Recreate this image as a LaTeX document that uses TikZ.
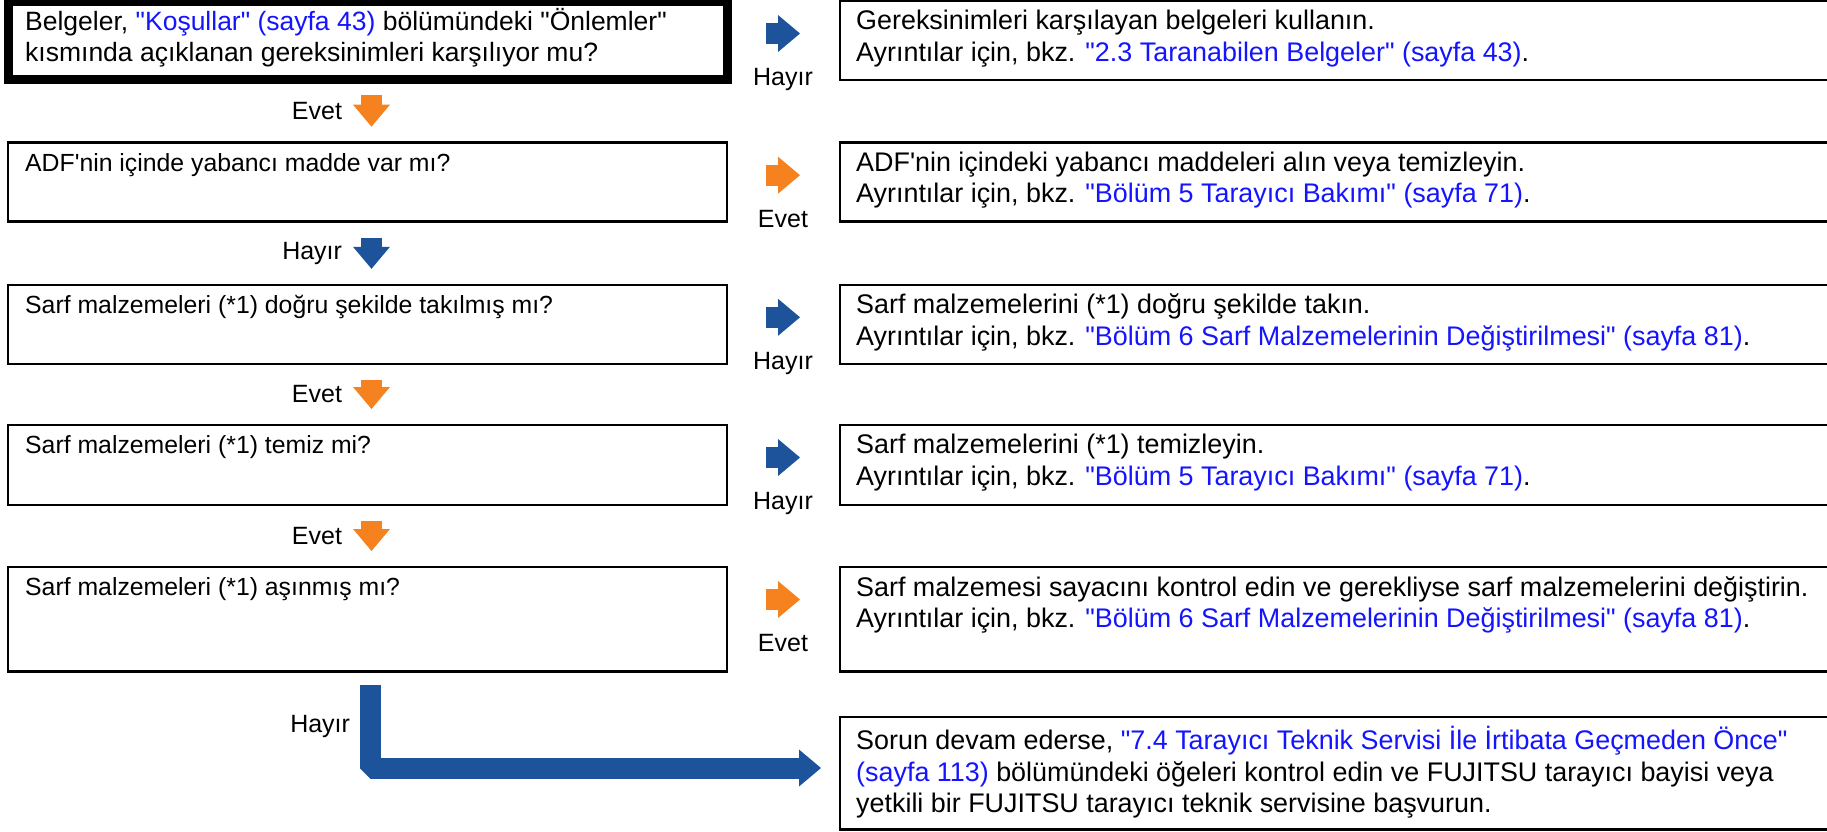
\documentclass[tikz,border=0pt]{standalone}
\usepackage{fontspec}
\newfontfamily\fjfont{Liberation Sans}
\usepackage{xcolor}
\definecolor{fjBlue}  {RGB}{ 29,  83, 155}
\definecolor{fjOrange}{RGB}{246, 130,  31}
\definecolor{fjLink}  {RGB}{ 20,  20, 255}
\usepackage{tikz}
\usetikzlibrary{
  arrows.meta,
  calc,
}
% question column is set a little smaller than the action column
\newcommand\qfont{\fjfont\fontsize{24.8}{31.5}\selectfont}
\newcommand\afont{\fjfont\fontsize{26.9}{31.5}\selectfont}
\newcommand\lblfont{\fjfont\fontsize{25}{31.5}\selectfont}
\newcommand\lnk[1]{\textcolor{fjLink}{#1}}

\begin{document}
\begin{tikzpicture}[
  x=1pt, y=-1pt,
  qbox/.style  ={draw, line width=2.5pt, anchor=north west, inner sep=0pt,
                 outer sep=0pt, minimum width=719pt},
  abox/.style  ={draw, line width=2.5pt, anchor=north west, inner sep=0pt,
                 outer sep=0pt, minimum width=1000pt},
  qtxt/.style  ={anchor=north west, inner sep=0pt, align=left, font=\qfont,
                 execute at begin node=\strut},
  atxt/.style  ={qtxt, font=\afont},
  lbl/.style   ={inner sep=0pt, outer sep=0pt, font=\lblfont, text=black},
  flow/.style  ={line width=21pt, line join=bevel,
                 -{Triangle[width=37pt, length=22pt, line width=0pt 0 0]}},
  yesarr/.style={flow, color=fjOrange},
  noarr/.style ={flow, color=fjBlue},
]
  \useasboundingbox (0,0) rectangle (1827,831);
  \clip (0,0) rectangle (1827,831);

  % Questions on the left, the first one framed heavier
  \node[qbox, line width=9pt, minimum height=78pt] (q1) at (8,1) {};
  \node[qbox, minimum height=79pt]    (q2) at (8,142.7) {};
  \node[qbox, minimum height=79pt]    (q3) at (8,284.8) {};
  \node[qbox, minimum height=80pt]    (q4) at (8,425) {};
  \node[qbox, minimum height=104.5pt] (q5) at (8,567) {};

  % Actions on the right (running off the page edge)
  \node[abox, minimum height=79pt]    (a1) at (840,1) {};
  \node[abox, minimum height=79pt]    (a2) at (840,142.7) {};
  \node[abox, minimum height=79pt]    (a3) at (840,284.8) {};
  \node[abox, minimum height=80pt]    (a4) at (840,425) {};
  \node[abox, minimum height=104.5pt] (a5) at (840,567) {};
  \node[abox, minimum height=112.5pt] (a6) at (840,717) {};

  % Box texts
  \node[qtxt, font=\fjfont\fontsize{26.5}{31.5}\selectfont] at ($(q1.north west)+(17,7)$)
    {Belgeler, \lnk{"Koşullar" (sayfa 43)} bölümündeki "Önlemler"\\
    kısmında açıklanan gereksinimleri karşılıyor mu?};
  \node[qtxt] at ($(q2.north west)+(17,6.5)$) {ADF'nin içinde yabancı madde var mı?};
  \node[qtxt] at ($(q3.north west)+(17,6.5)$) {Sarf malzemeleri (*1) doğru şekilde takılmış mı?};
  \node[qtxt] at ($(q4.north west)+(17,6.5)$) {Sarf malzemeleri (*1) temiz mi?};
  \node[qtxt] at ($(q5.north west)+(17,6.5)$) {Sarf malzemeleri (*1) aşınmış mı?};

  \node[atxt] at ($(a1.north west)+(16,9)$) {Gereksinimleri karşılayan belgeleri kullanın.\\
    Ayrıntılar için, bkz. \lnk{"2.3 Taranabilen Belgeler" (sayfa 43)}.};
  \node[atxt] at ($(a2.north west)+(16,9)$) {ADF'nin içindeki yabancı maddeleri alın veya temizleyin.\\
    Ayrıntılar için, bkz. \lnk{"Bölüm 5 Tarayıcı Bakımı" (sayfa 71)}.};
  \node[atxt] at ($(a3.north west)+(16,9)$) {Sarf malzemelerini (*1) doğru şekilde takın.\\
    Ayrıntılar için, bkz. \lnk{"Bölüm 6 Sarf Malzemelerinin Değiştirilmesi" (sayfa 81)}.};
  \node[atxt] at ($(a4.north west)+(16,9)$) {Sarf malzemelerini (*1) temizleyin.\\
    Ayrıntılar için, bkz. \lnk{"Bölüm 5 Tarayıcı Bakımı" (sayfa 71)}.};
  \node[atxt] at ($(a5.north west)+(16,9)$) {Sarf malzemesi sayacını kontrol edin ve gerekliyse sarf malzemelerini değiştirin.\\
    Ayrıntılar için, bkz. \lnk{"Bölüm 6 Sarf Malzemelerinin Değiştirilmesi" (sayfa 81)}.};
  \node[atxt] at ($(a6.north west)+(16,9)$) {Sorun devam ederse, \lnk{"7.4 Tarayıcı Teknik Servisi İle İrtibata Geçmeden Önce"}\\
    \lnk{(sayfa 113)} bölümündeki öğeleri kontrol edin ve FUJITSU tarayıcı bayisi veya\\
    yetkili bir FUJITSU tarayıcı teknik servisine başvurun.};

  % Sideways answers
  \draw[noarr]  ($(q1.east |- a1.north)+(39,32.5)$) -- ($(a1.north west)+(-40,32.5)$)
    node[lbl, midway, below=35pt] {Hayır};
  \draw[yesarr] ($(q2.north east)+(39,32.5)$) -- ($(a2.north west)+(-40,32.5)$)
    node[lbl, midway, below=35pt] {Evet};
  \draw[noarr]  ($(q3.north east)+(39,32.5)$) -- ($(a3.north west)+(-40,32.5)$)
    node[lbl, midway, below=35pt] {Hayır};
  \draw[noarr]  ($(q4.north east)+(39,32.5)$) -- ($(a4.north west)+(-40,32.5)$)
    node[lbl, midway, below=35pt] {Hayır};
  \draw[yesarr] ($(q5.north east)+(39,32.5)$) -- ($(a5.north west)+(-40,32.5)$)
    node[lbl, midway, below=35pt] {Evet};

  % Downward answers
  \draw[yesarr] ($(q1.south)+(4,16)$) -- ($(q2.north)+(4,-16)$)
    node[lbl, midway, left=29.5pt] {Evet};
  \draw[noarr]  ($(q2.south)+(4,16)$) -- ($(q3.north)+(4,-16)$)
    node[lbl, midway, left=29.5pt] {Hayır};
  \draw[yesarr] ($(q3.south)+(4,16)$) -- ($(q4.north)+(4,-16)$)
    node[lbl, midway, left=29.5pt] {Evet};
  \draw[yesarr] ($(q4.south)+(4,16)$) -- ($(q5.north)+(4,-16)$)
    node[lbl, midway, left=29.5pt] {Evet};

  % Last "no" bends over to the service box
  \draw[noarr] ($(q5.south)+(2.5,13.5)$) |- ($(a6.west)+(-19,-5.25)$)
    node[lbl, pos=0.25, left=20pt] {Hayır};

\end{tikzpicture}
\end{document}
